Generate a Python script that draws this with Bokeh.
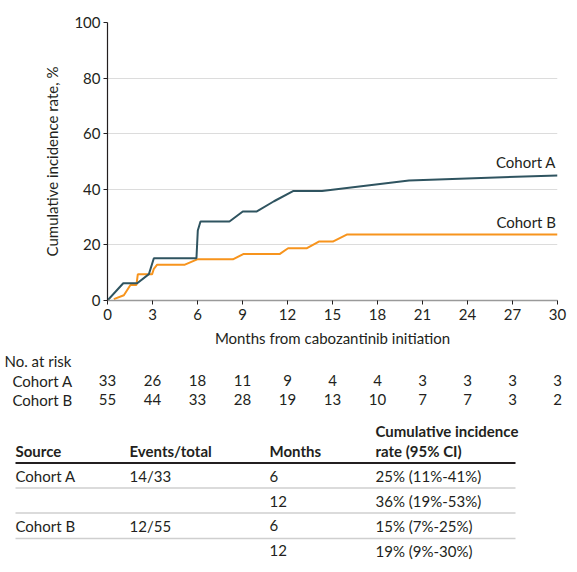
from bokeh.plotting import figure
from bokeh.models import Range1d, FixedTicker
from bokeh.layouts import column
from bokeh.core.properties import value
from bokeh.embed import file_html
from bokeh.resources import INLINE

FONT = "Lato"
INK = "#231f20"

# cumulative incidence curves (months, %)
months_a = [0, 1.05, 1.98, 2.76, 3.09, 5.93, 6.02, 6.2, 8.13, 9.02, 9.93, 11.1, 12.4, 14.3, 20.1, 30]
rate_a = [0, 6.2, 6.2, 9.5, 15.2, 15.2, 25.2, 28.4, 28.4, 32.0, 32.0, 35.7, 39.4, 39.4, 43.2, 45.0]

months_b = [0.42, 1.09, 1.53, 1.93, 2.02, 2.97, 3.09, 3.31, 5.16, 5.98, 8.36, 9.05, 11.47, 12.04,
            13.3, 14.09, 15.02, 15.95, 30]
rate_b = [0.5, 1.9, 5.6, 5.6, 9.4, 9.4, 11.4, 12.9, 12.9, 14.8, 14.8, 16.7, 16.7, 18.8,
          18.8, 21.2, 21.2, 23.7, 23.7]

x_ticks = [0, 3, 6, 9, 12, 15, 18, 21, 24, 27, 30]
y_ticks = [0, 20, 40, 60, 80, 100]

# numbers at risk
at_risk_a = [33, 26, 18, 11, 9, 4, 4, 3, 3, 3, 3]
at_risk_b = [55, 44, 33, 28, 19, 13, 10, 7, 7, 3, 2]

# summary table
tbl_source = ["Cohort A", "", "Cohort B", ""]
tbl_events = ["14/33", "", "12/55", ""]
tbl_months = ["6", "12", "6", "12"]
tbl_rate = ["25% (11%-41%)", "36% (19%-53%)", "15% (7%-25%)", "19% (9%-30%)"]

W = 577
p = figure(width=W, height=350, x_range=Range1d(0, 30), y_range=Range1d(0, 100),
           output_backend="svg", toolbar_location=None,
           min_border_left=107, min_border_right=W - 557, min_border_top=22, min_border_bottom=50)
p.outline_line_color = None
p.xgrid.grid_line_color = None
p.ygrid.grid_line_color = "#dcdcdc"
p.ygrid.grid_line_width = 1

p.xaxis.ticker = FixedTicker(ticks=x_ticks)
p.yaxis.ticker = FixedTicker(ticks=y_ticks)
for ax in (p.xaxis[0], p.yaxis[0]):
    ax.minor_tick_line_color = None
    ax.major_tick_in = 0
    ax.major_tick_out = 4
    ax.major_tick_line_color = INK
    ax.major_label_text_font = FONT
    ax.major_label_text_font_size = "15px"
    ax.major_label_text_color = INK
    ax.axis_label_text_font = FONT
    ax.axis_label_text_font_size = "15px"
    ax.axis_label_text_font_style = "normal"
    ax.axis_label_text_color = INK
p.xaxis.axis_line_color = "#9a9a9a"
p.xaxis.axis_line_width = 1.5
p.yaxis.axis_line_color = INK
p.yaxis.axis_line_width = 1.2
p.xaxis.major_label_standoff = 4
p.yaxis.major_label_standoff = 3
p.xaxis.axis_label = "Months from cabozantinib initiation"
p.yaxis.axis_label = "Cumulative incidence rate, %"
p.xaxis.axis_label_standoff = 6
p.yaxis.axis_label_standoff = 10

p.line(months_b, rate_b, line_color="#f7941d", line_width=2)
p.line(months_a, rate_a, line_color="#2f5460", line_width=2)

p.text(x=[29.9, 29.9], y=[49.7, 28.4], text=["Cohort A", "Cohort B"],
       text_align="right", text_baseline="middle", text_color=INK,
       text_font=value(FONT), text_font_size="15px")

# lower panel: numbers at risk and summary table (y in page rows, "px" x in page columns)
t = figure(width=W, height=221, x_range=p.x_range, y_range=Range1d(571, 350),
           output_backend="svg", toolbar_location=None,
           min_border_left=107, min_border_right=W - 557, min_border_top=0, min_border_bottom=0,
           x_axis_type=None, y_axis_type=None)
t.extra_x_ranges = {"px": Range1d(107, 557)}
t.outline_line_color = None
t.grid.visible = False

txt = dict(text_baseline="middle", text_color=INK, text_font=value(FONT), text_font_size="15px",
           level="overlay")

t.text(x=[4, 12, 12], y=[360, 380, 399], text=["No. at risk", "Cohort A", "Cohort B"],
       text_align="left", x_range_name="px", **txt)
t.text(x=x_ticks, y=[380] * len(x_ticks), text=[str(v) for v in at_risk_a], text_align="center", **txt)
t.text(x=x_ticks, y=[399] * len(x_ticks), text=[str(v) for v in at_risk_b], text_align="center", **txt)

hdr = dict(txt, text_font_style="bold")
t.text(x=[15, 129, 269, 375, 375], y=[450, 450, 450, 430.5, 450],
       text=["Source", "Events/total", "Months", "Cumulative incidence", "rate (95% CI)"],
       text_align="left", x_range_name="px", **hdr)

row_y = [475.5, 500.5, 525, 550]
t.text(x=[15] * 4, y=row_y, text=tbl_source, text_align="left", x_range_name="px", **txt)
t.text(x=[129] * 4, y=row_y, text=tbl_events, text_align="left", x_range_name="px", **txt)
t.text(x=[269] * 4, y=row_y, text=tbl_months, text_align="left", x_range_name="px", **txt)
t.text(x=[375] * 4, y=row_y, text=tbl_rate, text_align="left", x_range_name="px", **txt)

t.segment(x0=[15], y0=[462.5], x1=[515], y1=[462.5], line_color=INK, line_width=2,
          x_range_name="px", level="overlay")
t.segment(x0=[15] * 3, y0=[487.5, 512.5, 538], x1=[515] * 3, y1=[487.5, 512.5, 538],
          line_color="#cfcfcf", line_width=1.5, x_range_name="px", level="overlay")

layout = column(p, t)
open("out.html", "w").write(file_html(layout, INLINE))
